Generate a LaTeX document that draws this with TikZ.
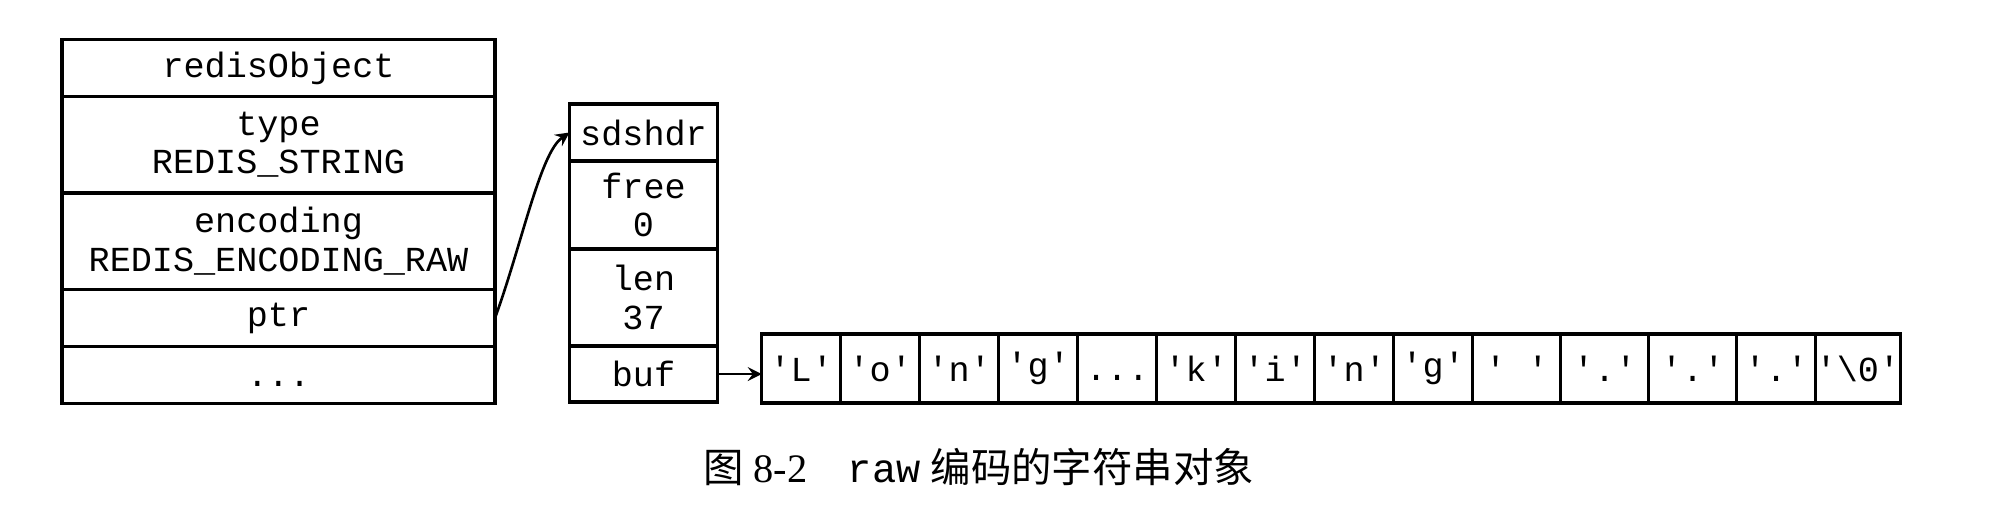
\documentclass[tikz,border=0pt]{standalone}
\usepackage{fontspec}
\setmainfont{Liberation Serif}
\setmonofont{Liberation Mono}
\newfontfamily\cjk{Noto Sans CJK SC}
\usetikzlibrary{positioning, arrows}
\newcommand{\chr}[1]{\textquotesingle#1\textquotesingle}
\newcommand{\ellip}{\vphantom{A}...}
\tikzstyle{field} = [rectangle, minimum width=4.33cm, minimum height=0.57cm, text centered, align=center, inner sep=0pt, outer sep=0pt, draw=black, line width=0.9pt, font=\ttfamily\fontsize{10}{11}\selectfont]
\tikzstyle{tallfield} = [field, minimum height=0.965cm]
\tikzstyle{sdsfield} = [field, minimum width=1.48cm]
\tikzstyle{cell} = [field, minimum width=0.79cm, minimum height=0.69cm]
\tikzstyle{widecell} = [cell, minimum width=0.88cm]
\tikzstyle{link} = [-stealth, line width=0.75pt]

\begin{document}
\begin{tikzpicture}
\useasboundingbox (0,0) rectangle (19.93,5.21);

% redisObject
\node at (2.785,4.815) (obj) [field, anchor=north] {redisObject};
\node (type) [tallfield, below=0pt of obj] {type\\REDIS\_STRING};
\node (enc) [tallfield, below=0pt of type] {encoding\\REDIS\_ENCODING\_RAW};
\node (ptr) [field, below=0pt of enc] {ptr};
\node (rest) [field, below=0pt of ptr] {\ellip};

% sdshdr
\node at (6.435,4.17) (sds) [sdsfield, anchor=north] {sdshdr};
\node (free) [sdsfield, minimum height=0.88cm, below=0pt of sds] {free\\0};
\node (len) [sdsfield, minimum height=0.97cm, below=0pt of free] {len\\37};
\node (buf) [sdsfield, minimum height=0.56cm, below=0pt of len] {buf};

% buf contents
\node at (7.617,1.18) (c1) [cell, anchor=south west] {\chr{L}};
\node (c2) [cell, right=0pt of c1] {\chr{o}};
\node (c3) [cell, right=0pt of c2] {\chr{n}};
\node (c4) [cell, right=0pt of c3] {\chr{g}};
\node (c5) [cell, right=0pt of c4] {\ellip};
\node (c6) [cell, right=0pt of c5] {\chr{k}};
\node (c7) [cell, right=0pt of c6] {\chr{i}};
\node (c8) [cell, right=0pt of c7] {\chr{n}};
\node (c9) [cell, right=0pt of c8] {\chr{g}};
\node (c10) [widecell, right=0pt of c9] {\chr{\ }};
\node (c11) [widecell, right=0pt of c10] {\chr{.}};
\node (c12) [widecell, right=0pt of c11] {\chr{.}};
\node (c13) [cell, right=0pt of c12] {\chr{.}};
\node (c14) [cell, right=0pt of c13] {\chr{\textbackslash 0}};

\draw [link] (ptr.east) ..controls(5.22,2.77)and(5.40,3.68).. (sds.west);
\draw [link] (buf.east) -- (buf.east -| c1.west);

% caption
\node at (9.785,0.39) (cap) [anchor=base, font=\fontsize{11.5}{13}\selectfont] {{\cjk 图} 8-2\quad{\ttfamily raw} {\cjk 编码的字符串对象}};

\end{tikzpicture}
\end{document}
